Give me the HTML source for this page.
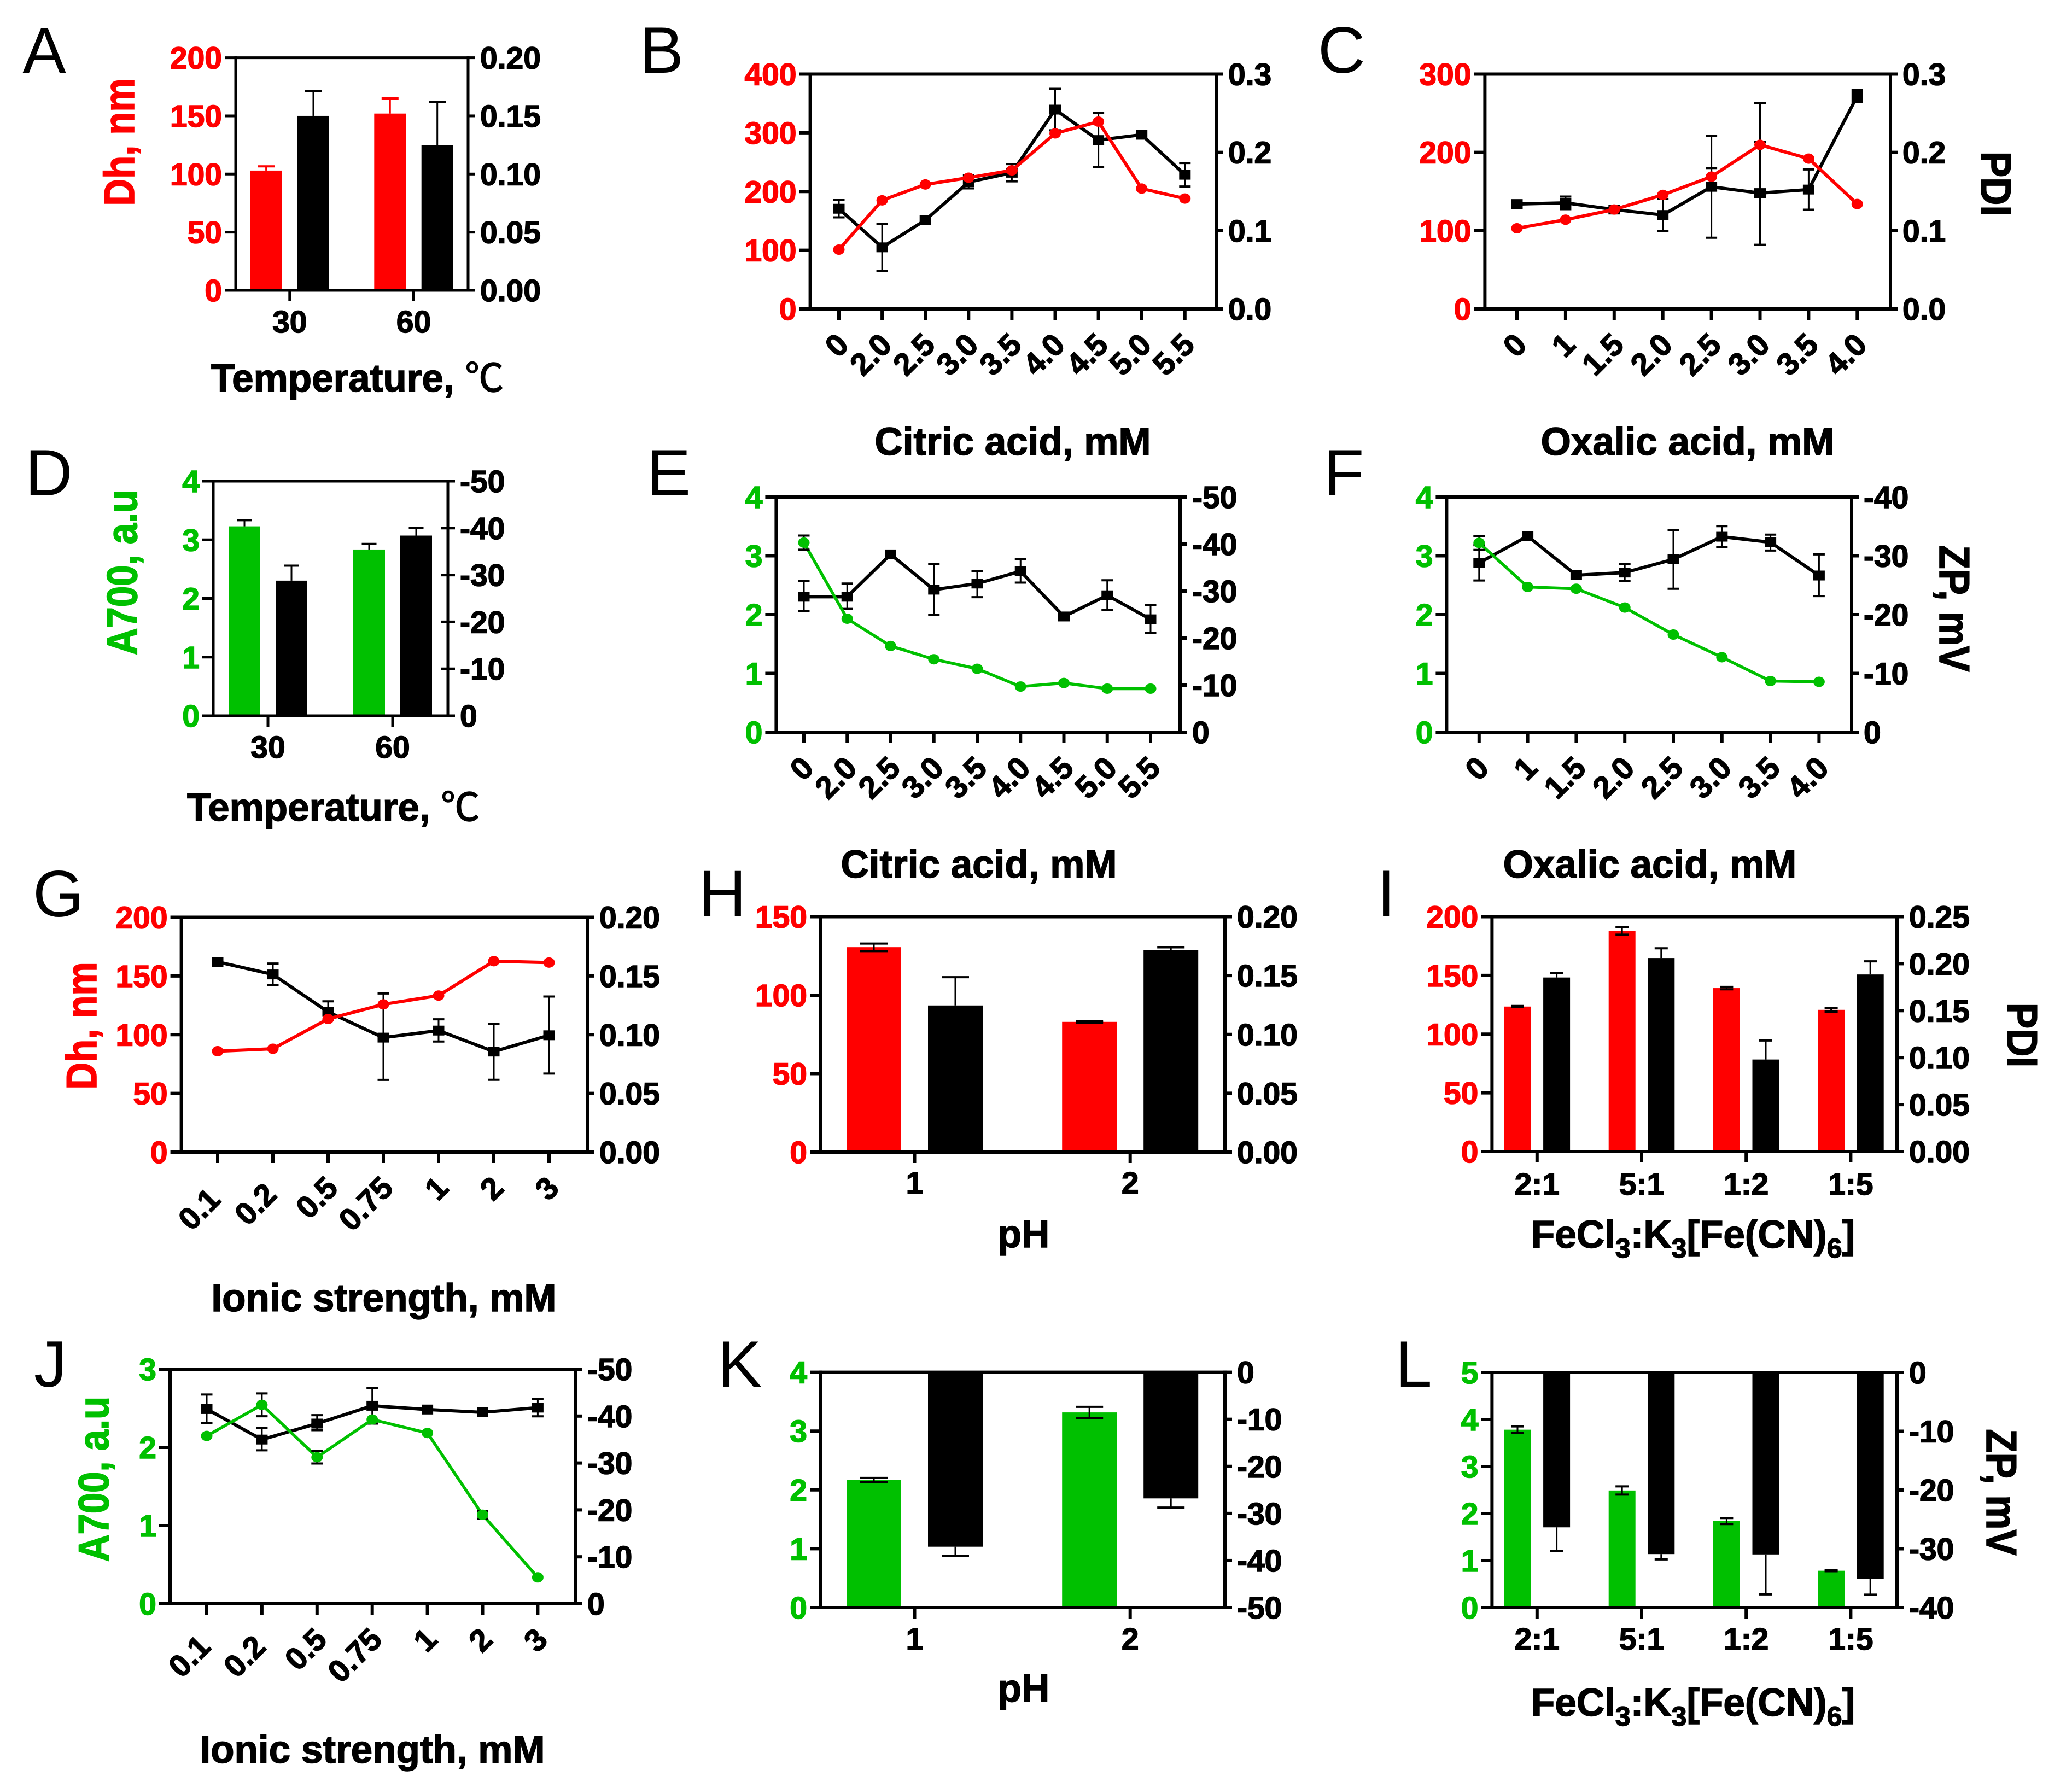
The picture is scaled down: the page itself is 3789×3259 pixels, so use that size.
<!DOCTYPE html>
<html lang="en">
<head>
<meta charset="utf-8">
<title>Nanoparticle characterisation panels A-L</title>
<style>
html,body{margin:0;padding:0;background:#fff;}
svg{display:block;}
text{font-family:"Liberation Sans","Noto Sans CJK SC",sans-serif;}
.letter{font-size:120px;font-weight:400;fill:#000;}
.title{font-size:71px;font-weight:700;fill:#000;stroke:#000;stroke-width:1.5px;}
.tick{font-size:57px;font-weight:700;stroke-width:1.5px;}
</style>
</head>
<body>
<svg id="figure" xmlns="http://www.w3.org/2000/svg" width="3789" height="3259" viewBox="0 0 3789 3259">
<rect x="0" y="0" width="3789" height="3259" fill="#fff"/>
<g id="plots"></g>

<g>
<text class="letter" x="41" y="134">A</text>
<text class="letter" x="1170" y="133">B</text>
<text class="letter" x="2410" y="133">C</text>
<text class="letter" x="46" y="906">D</text>
<text class="letter" x="1183" y="906">E</text>
<text class="letter" x="2421" y="906">F</text>
<text class="letter" x="60" y="1676">G</text>
<text class="letter" x="1278" y="1675">H</text>
<text class="letter" x="2518" y="1675">I</text>
<text class="letter" x="62" y="2536">J</text>
<text class="letter" x="1313" y="2536">K</text>
<text class="letter" x="2552" y="2536">L</text>
</g>

<g>
<text class="title" text-anchor="middle" transform="translate(245 260) rotate(-90) scale(0.97 1.1)" style="fill:#ff0000;stroke:#ff0000">Dh, nm</text>
<text class="title" x="386" y="716">Temperature, <tspan font-weight="400">℃</tspan></text>
<text class="title" text-anchor="middle" x="1852" y="832">Citric acid, mM</text>
<text class="title" text-anchor="middle" x="3086" y="832">Oxalic acid, mM</text>
<text class="title" text-anchor="middle" transform="translate(3623 336) rotate(90) scale(1 1.1)">PDI</text>
<text class="title" text-anchor="middle" transform="translate(250 1047) rotate(-90) scale(0.97 1.1)" style="fill:#00c000;stroke:#00c000">A700, a.u</text>
<text class="title" x="342" y="1501">Temperature, <tspan font-weight="400">℃</tspan></text>
<text class="title" text-anchor="middle" x="1790" y="1605">Citric acid, mM</text>
<text class="title" text-anchor="middle" x="3017" y="1605">Oxalic acid, mM</text>
<text class="title" text-anchor="middle" transform="translate(3547 1113) rotate(90) scale(1 1.1)">ZP, mV</text>
<text class="title" text-anchor="middle" transform="translate(176 1876) rotate(-90) scale(0.97 1.1)" style="fill:#ff0000;stroke:#ff0000">Dh, nm</text>
<text class="title" text-anchor="middle" x="702" y="2398">Ionic strength, mM</text>
<text class="title" text-anchor="middle" x="1872" y="2281">pH</text>
<text class="title" x="2800" y="2282">FeCl<tspan font-size="50" dy="18">3</tspan><tspan dy="-18">:K</tspan><tspan font-size="50" dy="18">3</tspan><tspan dy="-18">[Fe(CN)</tspan><tspan font-size="50" dy="18">6</tspan><tspan dy="-18">]</tspan></text>
<text class="title" text-anchor="middle" transform="translate(3671 1893) rotate(90) scale(1 1.1)">PDI</text>
<text class="title" text-anchor="middle" transform="translate(198 2705) rotate(-90) scale(0.97 1.1)" style="fill:#00c000;stroke:#00c000">A700, a.u</text>
<text class="title" text-anchor="middle" x="681" y="3224">Ionic strength, mM</text>
<text class="title" text-anchor="middle" x="1872" y="3112">pH</text>
<text class="title" x="2800" y="3138">FeCl<tspan font-size="50" dy="18">3</tspan><tspan dy="-18">:K</tspan><tspan font-size="50" dy="18">3</tspan><tspan dy="-18">[Fe(CN)</tspan><tspan font-size="50" dy="18">6</tspan><tspan dy="-18">]</tspan></text>
<text class="title" text-anchor="middle" transform="translate(3633 2729) rotate(90) scale(1 1.1)">ZP, mV</text>
</g>
</svg>

<script>
/* ---------- shared tick labels ---------- */
const zpTicksUp = ['0','-10','-20','-30','-40','-50'];
const zpTicksDown = ['-50','-40','-30','-20','-10','0'];
const a700Ticks4 = ['0','1','2','3','4'];
const pdiTicks020 = ['0.00','0.05','0.10','0.15','0.20'];
const pdiTicks03 = ['0.0','0.1','0.2','0.3'];
const dhTicks200 = ['0','50','100','150','200'];

/* ---------- panel A ---------- */
const aCats = ['30','60'];
const aRed = [103,152];
const aRedUp = [3.6,13];
const aBlack = [0.150,0.125];
const aBlackUp = [0.0213,0.037];

/* ---------- panel B ---------- */
const bCats = ['0','2.0','2.5','3.0','3.5','4.0','4.5','5.0','5.5'];
const bLeftTicks = ['0','100','200','300','400'];
const bRed = [101,185,212,223.5,236,299,319,205,188];
const bBlack = [0.128,0.0787,0.1135,0.162,0.174,0.2546,0.2157,0.2225,0.1714];
const bBlackUp = [0.011,0.030,0,0.0085,0.011,0.0265,0.0348,0,0.015];
const bBlackDn = [0.011,0.030,0,0.008,0.011,0.0265,0.0345,0,0.015];

/* ---------- panel C ---------- */
const cCats = ['0','1','1.5','2.0','2.5','3.0','3.5','4.0'];
const cLeftTicks = ['0','100','200','300'];
const cRed = [103,114,127,145.7,169,209.6,192,134];
const cRedUp = [0,0,0,0,11,4,0,0];
const cBlack = [0.134,0.1355,0.127,0.12,0.156,0.148,0.1525,0.272];
const cBlackUp = [0,0.008,0,0.0204,0.065,0.115,0.0257,0.008];
const cBlackDn = [0,0.008,0,0.0204,0.065,0.066,0.0257,0.008];

/* ---------- panel D ---------- */
const dCats = ['30','60'];
const dGreen = [3.23,2.835];
const dGreenUp = [0.105,0.095];
const dBlack = [-28.8,-38.4];
const dBlackUp = [3.2,1.6];

/* ---------- panel E ---------- */
const eCats = ['0','2.0','2.5','3.0','3.5','4.0','4.5','5.0','5.5'];
const eGreen = [3.224,1.93,1.466,1.24,1.078,0.776,0.836,0.74,0.74];
const eGreenErr = [0.12,0,0,0,0,0,0,0,0];
const eBlack = [-28.8,-28.8,-37.8,-30.3,-31.6,-34.2,-24.6,-29.1,-24];
const eBlackUp = [3.3,2.8,0,5.5,2.7,2.6,0,3.2,3.1];
const eBlackDn = [3.1,2.6,0,5.4,2.9,2.4,0,3.1,2.9];

/* ---------- panel F ---------- */
const fCats = ['0','1','1.5','2.0','2.5','3.0','3.5','4.0'];
const fRightTicks = ['0','-10','-20','-30','-40'];
const fGreen = [3.22,2.47,2.44,2.12,1.66,1.275,0.87,0.856];
const fGreenErr = [0.12,0,0,0,0,0,0,0];
const fBlack = [-28.8,-33.35,-26.7,-27.15,-29.4,-33.25,-32.3,-26.65];
const fBlackUp = [3,0,0,1.5,5,1.8,1.3,3.6];
const fBlackDn = [3,0,0,1.4,5,1.8,1.4,3.5];

/* ---------- panel G ---------- */
const gCats = ['0.1','0.2','0.5','0.75','1','2','3'];
const gRed = [85.9,88,113.4,125.8,133.3,162.6,161.4];
const gBlack = [0.162,0.1513,0.1194,0.0975,0.1035,0.0856,0.0995];
const gBlackUp = [0,0.0093,0.009,0.0376,0.0096,0.0237,0.033];
const gBlackDn = [0,0.009,0.007,0.036,0.0093,0.024,0.0326];

/* ---------- panel H ---------- */
const hCats = ['1','2'];
const hLeftTicks = ['0','50','100','150'];
const hRed = [130.6,83];
const hRedUp = [2.3,0.4];
const hRedDn = [2.5,0.4];
const hBlack = [0.1246,0.1716];
const hBlackUp = [0.024,0.0024];

/* ---------- panel I ---------- */
const iCats = ['2:1','5:1','1:2','1:5'];
const iRightTicks = ['0.00','0.05','0.10','0.15','0.20','0.25'];
const iRed = [123.5,188,139.2,120.7];
const iRedErr = [0.5,3.3,1,1.5];
const iBlack = [0.1853,0.206,0.098,0.1885];
const iBlackUp = [0.005,0.0104,0.0202,0.014];

/* ---------- panel J ---------- */
const jCats = ['0.1','0.2','0.5','0.75','1','2','3'];
const jLeftTicks = ['0','1','2','3'];
const jGreen = [2.146,2.544,1.874,2.356,2.184,1.138,0.337];
const jGreenErr = [0,0.146,0.08,0,0,0.05,0];
const jBlack = [-41.5,-35,-38.4,-42.2,-41.4,-40.8,-41.8];
const jBlackUp = [3.1,2.5,1.8,3.8,0,0,1.85];
const jBlackDn = [3,2.3,1.4,3.8,0,0,1.85];

/* ---------- panel K ---------- */
const kCats = ['1','2'];
const kGreen = [2.166,3.317];
const kGreenErr = [0.038,0.095];
const kBlack = [-37.07,-26.8];
const kBlackDn = [1.95,1.95];

/* ---------- panel L ---------- */
const lCats = ['2:1','5:1','1:2','1:5'];
const lLeftTicks = ['0','1','2','3','4','5'];
const lRightTicks = ['-40','-30','-20','-10','0'];
const lGreen = [3.783,2.49,1.84,0.783];
const lGreenErr = [0.07,0.087,0.064,0.01];
const lBlack = [-26.35,-30.9,-30.96,-35.1];
const lBlackDn = [4,0.9,6.8,2.7];

/* ---------- drawing helpers ---------- */
const NS = 'http://www.w3.org/2000/svg';
const RED = '#ff0000';
const GREEN = '#00c000';
const BLACK = '#000000';
const root = document.getElementById('plots');

function mark(tag, parent, name, attrs) {
  const el = document.createElementNS(NS, tag);
  
  
  for (const k in attrs) el.setAttribute(k, attrs[k]);
  parent.appendChild(el);
  return el;
}
function seg(parent, name, x1, y1, x2, y2, color, w) {
  return mark('line', parent, name, {x1:x1, y1:y1, x2:x2, y2:y2, stroke:color, 'stroke-width':w});
}
function scaleFrom(ticks, yB, yT) {
  const a = Number(ticks[0]);
  const b = Number(ticks[ticks.length - 1]);
  const f = v => yB + (v - a) / (b - a) * (yT - yB);
  f.unit = Math.abs(yB - yT) / Math.abs(b - a);
  return f;
}
function frame(g, p, leftScale, rightScale) {
  const sw = p.sw || 6;
  const prefix = p.key;
  p.leftTicks.forEach(t => {
    const y = leftScale(Number(t));
    seg(g, prefix + '-left-tick-' + t, p.x0 - 20, y, p.x0, y, BLACK, sw);
    const txt = mark('text', g, prefix + '-left-tick-label-' + t, {class:'tick', x:p.x0 - 25, y:y + 20, 'text-anchor':'end', fill:p.color, stroke:p.color});
    txt.textContent = t;
  });
  p.rightTicks.forEach(t => {
    const y = rightScale(Number(t));
    seg(g, prefix + '-right-tick-' + t, p.x1 - (p.rightIn || 0), y, p.x1 + 13, y, BLACK, sw);
    const txt = mark('text', g, prefix + '-right-tick-label-' + t, {class:'tick', x:p.x1 + 22, y:y + 20, fill:BLACK, stroke:BLACK});
    txt.textContent = t;
  });
  seg(g, prefix + '-left-axis', p.x0, p.yT - sw / 2, p.x0, p.yB + sw / 2, BLACK, sw);
  seg(g, prefix + '-right-axis', p.x1, p.yT - sw / 2, p.x1, p.yB + sw / 2, BLACK, sw);
  seg(g, prefix + '-top-axis', p.x0, p.yT, p.x1, p.yT, BLACK, sw);
  seg(g, prefix + '-bottom-axis', p.x0, p.yB, p.x1, p.yB, BLACK, sw);
  p.cats.forEach((c, i) => {
    const x = p.first + i * p.step;
    seg(g, prefix + '-x-tick-' + c, x, p.yB, x, p.yB + 20, BLACK, sw);
    if (p.rotated) {
      const shift = (p.labelShift && p.labelShift[c]) || [0, 0];
      const ax = x + 21 + shift[0];
      const ay = p.yB + 69 + shift[1];
      const txt = mark('text', g, prefix + '-x-tick-label-' + c, {class:'tick', x:ax, y:ay, 'text-anchor':'end', fill:BLACK, stroke:BLACK, transform:'rotate(-45 ' + ax + ' ' + ay + ')'});
      txt.textContent = c;
    } else {
      const txt = mark('text', g, prefix + '-x-tick-label-' + c, {class:'tick', x:x, y:p.labelY + 20, 'text-anchor':'middle', fill:BLACK, stroke:BLACK});
      txt.textContent = c;
    }
  });
}
function errorBar(g, name, x, y, scale, up, dn, color, capW, capSw) {
  if (!up && !dn) return;
  const yUp = y - (up || 0) * scale.unit;
  const yDn = y + (dn || 0) * scale.unit;
  seg(g, name + '-stem', x, yUp, x, yDn, color, 3);
  if (up) seg(g, name + '-cap-top', x - capW / 2, yUp, x + capW / 2, yUp, color, capSw);
  if (dn) seg(g, name + '-cap-bottom', x - capW / 2, yDn, x + capW / 2, yDn, color, capSw);
}
function barPanel(p) {
  const g = mark('g', root, p.key, {});
  const L = scaleFrom(p.leftTicks, p.yB, p.yT);
  const R = scaleFrom(p.rightTicks, p.yB, p.yT);
  p.cats.forEach((c, i) => {
    const gx = p.first + i * p.step;
    const a = gx - p.off;
    const b = gx + p.off;
    const vL = p.leftVals[i];
    const vR = p.rightVals[i];
    const yL = L(vL);
    const y0R = R(0);
    const yR = R(vR);
    mark('rect', g, p.key + '-bar-left-' + c, {x:a - p.barW / 2, y:yL, width:p.barW, height:p.yB - yL, fill:p.color});
    mark('rect', g, p.key + '-bar-right-' + c, {x:b - p.barW / 2, y:Math.min(yR, y0R), width:p.barW, height:Math.abs(y0R - yR), fill:BLACK});
    errorBar(g, p.key + '-error-left-' + c, a, yL, L, p.leftUp ? p.leftUp[i] : 0, p.leftDn ? p.leftDn[i] : 0, p.leftErrColor || BLACK, p.capW, 4);
    errorBar(g, p.key + '-error-right-' + c, b, yR, R, p.rightUp ? p.rightUp[i] : 0, p.rightDn ? p.rightDn[i] : 0, BLACK, p.capW, 4);
  });
  frame(g, p, L, R);
}
function linePanel(p) {
  const g = mark('g', root, p.key, {});
  const L = scaleFrom(p.leftTicks, p.yB, p.yT);
  const R = scaleFrom(p.rightTicks, p.yB, p.yT);
  const X = i => p.first + i * p.step;
  frame(g, p, L, R);
  const blackPts = p.rightVals.map((v, i) => X(i) + ',' + R(v)).join(' ');
  mark('polyline', g, p.key + '-black-line', {points:blackPts, fill:'none', stroke:BLACK, 'stroke-width':6});
  p.rightVals.forEach((v, i) => {
    const y = R(v);
    errorBar(g, p.key + '-black-error-' + p.cats[i], X(i), y, R, p.rightUp[i], p.rightDn[i], BLACK, 21, 4);
    mark('rect', g, p.key + '-black-point-' + p.cats[i], {x:X(i) - 10.5, y:y - 9, width:21, height:18, fill:BLACK});
  });
  const colorPts = p.leftVals.map((v, i) => X(i) + ',' + L(v)).join(' ');
  mark('polyline', g, p.key + '-color-line', {points:colorPts, fill:'none', stroke:p.color, 'stroke-width':p.lineW || 6});
  p.leftVals.forEach((v, i) => {
    const y = L(v);
    const up = p.leftUp ? p.leftUp[i] : 0;
    const dn = p.leftDn ? p.leftDn[i] : 0;
    errorBar(g, p.key + '-color-error-' + p.cats[i], X(i), y, L, up, dn, BLACK, 21, 4);
    mark('ellipse', g, p.key + '-color-point-' + p.cats[i], {cx:X(i), cy:y, rx:10.5, ry:9.5, fill:p.color});
  });
}

/* ---------- panels ---------- */
barPanel({key:'panel-a', x0:431, x1:856, yT:105.6, yB:531, sw:5, color:RED, leftTicks:dhTicks200, rightTicks:pdiTicks020,
  cats:aCats, first:529.8, step:226.7, off:43.2, barW:58, capW:31, labelY:588, leftErrColor:RED,
  leftVals:aRed, leftUp:aRedUp, rightVals:aBlack, rightUp:aBlackUp});

linePanel({key:'panel-b', x0:1481.6, x1:2224, yT:135.5, yB:565, color:RED, leftTicks:bLeftTicks, rightTicks:pdiTicks03,
  cats:bCats, first:1534, step:79.1, rotated:true,
  leftVals:bRed, rightVals:bBlack, rightUp:bBlackUp, rightDn:bBlackDn});

linePanel({key:'panel-c', x0:2715.4, x1:3457, yT:135.5, yB:565, color:RED, leftTicks:cLeftTicks, rightTicks:pdiTicks03,
  cats:cCats, first:2774, step:88.9, rotated:true,
  leftVals:cRed, leftUp:cRedUp, rightVals:cBlack, rightUp:cBlackUp, rightDn:cBlackDn});

barPanel({key:'panel-d', x0:390, x1:819, yT:880, yB:1309, sw:5, rightIn:13, color:GREEN, leftTicks:a700Ticks4, rightTicks:zpTicksUp,
  cats:dCats, first:490, step:228, off:43, barW:58, capW:27, labelY:1366,
  leftVals:dGreen, leftUp:dGreenUp, rightVals:dBlack, rightUp:dBlackUp});

linePanel({key:'panel-e', x0:1419.4, x1:2158, yT:909, yB:1339, color:GREEN, lineW:5.5, leftTicks:a700Ticks4, rightTicks:zpTicksUp,
  cats:eCats, first:1470, step:79.25, rotated:true,
  leftVals:eGreen, leftUp:eGreenErr, leftDn:eGreenErr, rightVals:eBlack, rightUp:eBlackUp, rightDn:eBlackDn});

linePanel({key:'panel-f', x0:2645.4, x1:3386, yT:909, yB:1339, color:GREEN, lineW:5.5, leftTicks:a700Ticks4, rightTicks:fRightTicks,
  cats:fCats, first:2704.8, step:88.8, rotated:true,
  leftVals:fGreen, leftUp:fGreenErr, leftDn:fGreenErr, rightVals:fBlack, rightUp:fBlackUp, rightDn:fBlackDn});

linePanel({key:'panel-g', x0:331.6, x1:1074, yT:1677.5, yB:2107, color:RED, leftTicks:dhTicks200, rightTicks:pdiTicks020,
  cats:gCats, first:398, step:101, rotated:true, labelShift:{'0.1':[-13,21], '0.2':[-11,12]},
  leftVals:gRed, rightVals:gBlack, rightUp:gBlackUp, rightDn:gBlackDn});

barPanel({key:'panel-h', x0:1501, x1:2240, yT:1676.5, yB:2107, color:RED, leftTicks:hLeftTicks, rightTicks:pdiTicks020,
  cats:hCats, first:1672.5, step:394.2, off:74.5, barW:100, capW:50, labelY:2163,
  leftVals:hRed, leftUp:hRedUp, leftDn:hRedDn, rightVals:hBlack, rightUp:hBlackUp});

barPanel({key:'panel-i', x0:2728.4, x1:3469, yT:1676.5, yB:2106, color:RED, leftTicks:dhTicks200, rightTicks:iRightTicks,
  cats:iCats, first:2810.8, step:191.2, off:35.8, barW:49, capW:24, labelY:2165,
  leftVals:iRed, leftUp:iRedErr, leftDn:iRedErr, rightVals:iBlack, rightUp:iBlackUp});

linePanel({key:'panel-j', x0:311, x1:1052, yT:2504, yB:2933, color:GREEN, lineW:5.5, leftTicks:jLeftTicks, rightTicks:zpTicksUp,
  cats:jCats, first:378, step:100.9, rotated:true, labelShift:{'0.1':[-11,13], '0.2':[-11,13]},
  leftVals:jGreen, leftUp:jGreenErr, leftDn:jGreenErr, rightVals:jBlack, rightUp:jBlackUp, rightDn:jBlackDn});

barPanel({key:'panel-k', x0:1501, x1:2240, yT:2509.6, yB:2940, color:GREEN, leftTicks:a700Ticks4, rightTicks:zpTicksDown,
  cats:kCats, first:1672.5, step:394.2, off:74.5, barW:100, capW:50, labelY:2997,
  leftVals:kGreen, leftUp:kGreenErr, leftDn:kGreenErr, rightVals:kBlack, rightDn:kBlackDn});

barPanel({key:'panel-l', x0:2728.4, x1:3469, yT:2510, yB:2940, color:GREEN, leftTicks:lLeftTicks, rightTicks:lRightTicks,
  cats:lCats, first:2810.8, step:191.2, off:35.8, barW:49, capW:24, labelY:2997,
  leftVals:lGreen, leftUp:lGreenErr, leftDn:lGreenErr, rightVals:lBlack, rightDn:lBlackDn});
</script>
</body>
</html>
